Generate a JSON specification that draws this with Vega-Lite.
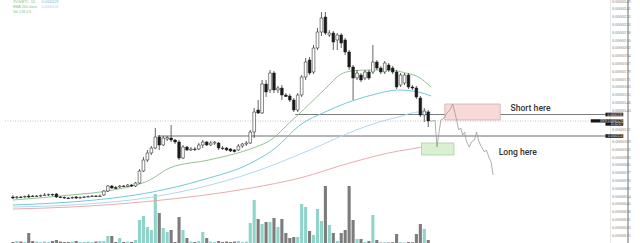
{
  "$schema": "https://vega.github.io/schema/vega-lite/v6.json",
  "width": 633,
  "height": 243,
  "autosize": "none",
  "padding": {"left": 0, "top": 0, "right": 7, "bottom": 0},
  "background": "white",
  "config": {"view": {"stroke": null}, "font": "Liberation Sans"},
  "datasets": {
    "candles": [
      {"i":0,"o":53,"h":55,"l":51,"c":52,"v":10},
      {"i":1,"o":52.5,"h":54,"l":51,"c":53,"v":20},
      {"i":2,"o":53,"h":54,"l":52,"c":52.5,"v":15},
      {"i":3,"o":53,"h":54.5,"l":52,"c":53.5,"v":10},
      {"i":4,"o":54,"h":56,"l":52,"c":53,"v":100},
      {"i":5,"o":54,"h":55,"l":53,"c":53.5,"v":20},
      {"i":6,"o":53.5,"h":55,"l":53,"c":54,"v":15},
      {"i":7,"o":54,"h":55.5,"l":53,"c":54.5,"v":10},
      {"i":8,"o":54.5,"h":57,"l":54,"c":55,"v":15},
      {"i":9,"o":55,"h":56.5,"l":54,"c":55.5,"v":10},
      {"i":10,"o":55.5,"h":56.5,"l":54,"c":55,"v":20},
      {"i":11,"o":56,"h":57,"l":52,"c":53,"v":30},
      {"i":12,"o":53,"h":54,"l":52,"c":52.5,"v":15},
      {"i":13,"o":52.5,"h":53.5,"l":51,"c":52,"v":10},
      {"i":14,"o":52,"h":53,"l":51,"c":51.5,"v":10},
      {"i":15,"o":52,"h":53.5,"l":51,"c":52.5,"v":15},
      {"i":16,"o":53,"h":54,"l":51,"c":52,"v":20},
      {"i":17,"o":52,"h":53.5,"l":51.5,"c":52.5,"v":10},
      {"i":18,"o":52.5,"h":54,"l":52,"c":53,"v":10},
      {"i":19,"o":53,"h":54.5,"l":52.5,"c":53.5,"v":15},
      {"i":20,"o":53.5,"h":55,"l":53,"c":54,"v":10},
      {"i":21,"o":54,"h":55,"l":53,"c":53.5,"v":15},
      {"i":22,"o":53.5,"h":55.5,"l":53,"c":54,"v":20},
      {"i":23,"o":55,"h":60,"l":54,"c":59,"v":20},
      {"i":24,"o":59,"h":65,"l":58,"c":64,"v":70},
      {"i":25,"o":64,"h":65,"l":61,"c":62,"v":70},
      {"i":26,"o":62.5,"h":64,"l":61,"c":61.5,"v":10},
      {"i":27,"o":63,"h":65,"l":62,"c":64,"v":50},
      {"i":28,"o":64,"h":65,"l":63,"c":63.5,"v":10},
      {"i":29,"o":63.5,"h":66,"l":63,"c":65,"v":15},
      {"i":30,"o":65,"h":66,"l":63,"c":64,"v":10},
      {"i":31,"o":64,"h":68,"l":63,"c":67,"v":30},
      {"i":32,"o":67,"h":81,"l":66,"c":79,"v":230},
      {"i":33,"o":79,"h":93,"l":78,"c":90,"v":270},
      {"i":34,"o":90,"h":100,"l":88,"c":97,"v":160},
      {"i":35,"o":97,"h":104,"l":95,"c":102,"v":130},
      {"i":36,"o":102,"h":122,"l":101,"c":113,"v":490},
      {"i":37,"o":113,"h":115,"l":100,"c":105,"v":300},
      {"i":38,"o":105,"h":114,"l":104,"c":112,"v":150},
      {"i":39,"o":111,"h":114,"l":109,"c":112.5,"v":110},
      {"i":40,"o":112,"h":125,"l":108,"c":110,"v":130},
      {"i":41,"o":110,"h":111,"l":106,"c":108,"v":10},
      {"i":42,"o":108,"h":110,"l":90,"c":92,"v":260},
      {"i":43,"o":92,"h":105,"l":91,"c":103,"v":130},
      {"i":44,"o":103,"h":104,"l":99,"c":100,"v":50},
      {"i":45,"o":100,"h":103,"l":99,"c":101,"v":15},
      {"i":46,"o":101,"h":103,"l":99,"c":100.5,"v":10},
      {"i":47,"o":101,"h":107,"l":100,"c":105,"v":20},
      {"i":48,"o":105,"h":110,"l":102,"c":108,"v":110},
      {"i":49,"o":108,"h":109,"l":104,"c":105,"v":50},
      {"i":50,"o":105,"h":109,"l":104,"c":107,"v":15},
      {"i":51,"o":107,"h":109,"l":105,"c":107.8,"v":10},
      {"i":52,"o":107,"h":108,"l":100,"c":102,"v":20},
      {"i":53,"o":102,"h":104,"l":100,"c":101.5,"v":10},
      {"i":54,"o":102,"h":103,"l":99,"c":100,"v":15},
      {"i":55,"o":101,"h":102,"l":98,"c":99,"v":10},
      {"i":56,"o":100,"h":101,"l":97.5,"c":98.5,"v":15},
      {"i":57,"o":100,"h":106,"l":99,"c":104,"v":20},
      {"i":58,"o":104,"h":107,"l":102,"c":106,"v":10},
      {"i":59,"o":106,"h":109,"l":104,"c":107,"v":15},
      {"i":60,"o":107,"h":120,"l":106,"c":118,"v":200},
      {"i":61,"o":118,"h":142,"l":112,"c":138,"v":430},
      {"i":62,"o":140,"h":150,"l":136,"c":137,"v":240},
      {"i":63,"o":137,"h":170,"l":136,"c":166,"v":190},
      {"i":64,"o":166,"h":170,"l":153,"c":158,"v":210},
      {"i":65,"o":160,"h":180,"l":157,"c":177,"v":210},
      {"i":66,"o":177,"h":179,"l":157,"c":160,"v":250},
      {"i":67,"o":160,"h":164,"l":157,"c":162,"v":160},
      {"i":68,"o":162,"h":165,"l":150,"c":155,"v":240},
      {"i":69,"o":155,"h":157,"l":153,"c":153.5,"v":100},
      {"i":70,"o":154,"h":156,"l":148,"c":150,"v":50},
      {"i":71,"o":150,"h":152,"l":138,"c":140,"v":60},
      {"i":72,"o":140,"h":157,"l":138,"c":155,"v":60},
      {"i":73,"o":155,"h":175,"l":153,"c":173,"v":390},
      {"i":74,"o":173,"h":192,"l":170,"c":188,"v":360},
      {"i":75,"o":190,"h":193,"l":175,"c":177,"v":120},
      {"i":76,"o":178,"h":205,"l":176,"c":202,"v":80},
      {"i":77,"o":202,"h":222,"l":200,"c":218,"v":340},
      {"i":78,"o":218,"h":238,"l":214,"c":232,"v":220},
      {"i":79,"o":233,"h":238,"l":215,"c":217,"v":570},
      {"i":80,"o":215,"h":220,"l":213,"c":217,"v":180},
      {"i":81,"o":217,"h":219,"l":200,"c":208,"v":100},
      {"i":82,"o":210,"h":217,"l":200,"c":215,"v":20},
      {"i":83,"o":215,"h":217,"l":202,"c":207,"v":100},
      {"i":84,"o":210,"h":212,"l":195,"c":198,"v":130},
      {"i":85,"o":198,"h":200,"l":180,"c":183,"v":570},
      {"i":86,"o":183,"h":185,"l":150,"c":172,"v":230},
      {"i":87,"o":172,"h":180,"l":170,"c":177,"v":40},
      {"i":88,"o":175,"h":177,"l":168,"c":170,"v":40},
      {"i":89,"o":172,"h":180,"l":170,"c":178,"v":10},
      {"i":90,"o":178,"h":180,"l":170,"c":172,"v":20},
      {"i":91,"o":178,"h":205,"l":176,"c":188,"v":280},
      {"i":92,"o":188,"h":190,"l":180,"c":182,"v":30},
      {"i":93,"o":182,"h":184,"l":176,"c":178,"v":5},
      {"i":94,"o":178,"h":189,"l":176,"c":187,"v":8},
      {"i":95,"o":185,"h":187,"l":178,"c":180,"v":5},
      {"i":96,"o":182,"h":184,"l":176,"c":178,"v":8},
      {"i":97,"o":178,"h":180,"l":161,"c":163,"v":90},
      {"i":98,"o":165,"h":177,"l":163,"c":175,"v":8},
      {"i":99,"o":167,"h":177,"l":165,"c":175,"v":5},
      {"i":100,"o":175,"h":177,"l":161,"c":163,"v":10},
      {"i":101,"o":163,"h":165,"l":160,"c":162,"v":8},
      {"i":102,"o":162,"h":164,"l":151,"c":153,"v":90},
      {"i":103,"o":152,"h":154,"l":133,"c":135,"v":190},
      {"i":104,"o":135,"h":142,"l":128,"c":139,"v":140},
      {"i":105,"o":138,"h":140,"l":123,"c":129,"v":30}
    ],
    "ma": [
      {"s":"ma1","i":0,"p":50},{"s":"ma1","i":14.7,"p":55},{"s":"ma1","i":25.4,"p":60},{"s":"ma1","i":34.6,"p":70},
      {"s":"ma1","i":39.6,"p":82},{"s":"ma1","i":49.5,"p":90},{"s":"ma1","i":57.7,"p":98},{"s":"ma1","i":61.4,"p":103},
      {"s":"ma1","i":65.2,"p":110},{"s":"ma1","i":70.1,"p":128},{"s":"ma1","i":73.4,"p":140},{"s":"ma1","i":79.4,"p":163},
      {"s":"ma1","i":82.6,"p":175},{"s":"ma1","i":85.6,"p":179},{"s":"ma1","i":90,"p":180},{"s":"ma1","i":95,"p":180},
      {"s":"ma1","i":99.3,"p":177},{"s":"ma1","i":102.5,"p":173},{"s":"ma1","i":105.7,"p":163},
      {"s":"ma2","i":0,"p":45},{"s":"ma2","i":14.7,"p":48},{"s":"ma2","i":25.4,"p":52},{"s":"ma2","i":35.3,"p":58},
      {"s":"ma2","i":47.8,"p":70},{"s":"ma2","i":60.2,"p":87},{"s":"ma2","i":66.4,"p":102},{"s":"ma2","i":72.6,"p":125},
      {"s":"ma2","i":78.9,"p":138},{"s":"ma2","i":84.3,"p":147},{"s":"ma2","i":90.8,"p":155},{"s":"ma2","i":97.5,"p":160},
      {"s":"ma2","i":102.5,"p":158},{"s":"ma2","i":105.7,"p":154},
      {"s":"ma3","i":0,"p":43},{"s":"ma3","i":14.7,"p":45},{"s":"ma3","i":35.3,"p":53},{"s":"ma3","i":60.2,"p":77},
      {"s":"ma3","i":75.1,"p":100},{"s":"ma3","i":86.8,"p":120},{"s":"ma3","i":92.5,"p":128},{"s":"ma3","i":97.5,"p":133},
      {"s":"ma3","i":102.5,"p":138},{"s":"ma3","i":105.7,"p":138},
      {"s":"ma4","i":0,"p":41},{"s":"ma4","i":14.7,"p":43},{"s":"ma4","i":35.3,"p":49},{"s":"ma4","i":60.2,"p":62},
      {"s":"ma4","i":72.6,"p":72},{"s":"ma4","i":85.1,"p":87},{"s":"ma4","i":97.5,"p":99},{"s":"ma4","i":100.7,"p":101},
      {"s":"ma4","i":105.7,"p":105}
    ],
    "levels": [
      {"kind":"last","x1":-2,"x2":149.8,"p":129},
      {"kind":"level","x1":71.4,"x2":149.8,"p":135.5},
      {"kind":"level","x1":36.6,"x2":149.8,"p":114}
    ],
    "zones": [
      {"kind":"short","x1":109.2,"x2":123.2,"p1":146,"p2":130},
      {"kind":"long","x1":103.3,"x2":111.5,"p1":107,"p2":95}
    ],
    "path": [
      {"k":0,"i":105.5,"p":129},{"k":1,"i":106.2,"p":129},{"k":2,"i":106.7,"p":130},{"k":3,"i":107.2,"p":103},
      {"k":4,"i":107.7,"p":117},{"k":5,"i":108.2,"p":130},{"k":6,"i":108.7,"p":131},{"k":7,"i":109.2,"p":133},
      {"k":8,"i":109.7,"p":137},{"k":9,"i":110.5,"p":140},{"k":10,"i":111.2,"p":146},{"k":11,"i":112,"p":133},
      {"k":12,"i":112.7,"p":120},{"k":13,"i":113.2,"p":122},{"k":14,"i":113.7,"p":115},{"k":15,"i":114.2,"p":118},
      {"k":16,"i":114.7,"p":108},{"k":17,"i":115.4,"p":103},{"k":18,"i":115.9,"p":108},{"k":19,"i":116.7,"p":110},
      {"k":20,"i":117.2,"p":118},{"k":21,"i":117.7,"p":110},{"k":22,"i":118.2,"p":105},{"k":23,"i":119.2,"p":98},
      {"k":24,"i":119.7,"p":100},{"k":25,"i":120.4,"p":92},{"k":26,"i":120.9,"p":88},{"k":27,"i":121.4,"p":75}
    ],
    "notes": [
      {"i":125.8,"p":142,"t":"Short here"},
      {"i":122.8,"p":98,"t":"Long here"}
    ],
    "tags": [
      {"x1":149.8,"x2":154.3,"p1":133.7,"p2":137.3,"p":135.5,"t":"0.0000135"},
      {"x1":146.1,"x2":154.3,"p1":127.5,"p2":130.7,"p":129.1,"t":"XVG 0.0000129"},
      {"x1":149.8,"x2":154.3,"p1":124.3,"p2":127.5,"p":125.9,"t":"11:42:07"},
      {"x1":149.8,"x2":154.3,"p1":112.2,"p2":115.8,"p":114,"t":"0.0000114"}
    ],
    "legend": [
      {"i":0,"p":248,"t":"XVG/BTC, 1D","tone":"base"},
      {"i":7.2,"p":248,"t":"0.0000129","tone":"blue"},
      {"i":0,"p":243,"t":"EMA 200 close","tone":"base"},
      {"i":7.2,"p":243,"t":"0.0000105","tone":"red"},
      {"i":0,"p":238,"t":"Vol 128.4 K","tone":"base"}
    ],
    "edge": [{"i":155.5}]
  },
  "resolve": {"scale": {"y": "independent"}},
  "layer": [
    {
      "data": {"name": "candles"},
      "mark": {"type": "bar", "width": 3.1},
      "encoding": {
        "x": {"field": "i", "type": "quantitative", "scale": {"domain": [-2, 155.5], "nice": false, "zero": false}, "axis": null},
        "y": {"field": "v", "type": "quantitative", "scale": {"domain": [0, 2430], "nice": false}, "axis": null},
        "color": {"condition": {"test": "datum.c > datum.o", "value": "#8fd3c9"}, "value": "#7c7c7c"}
      }
    },
    {
      "layer": [
        {
          "data": {"name": "levels"},
          "mark": {"type": "rule", "strokeWidth": 0.8},
          "encoding": {
            "x": {"field": "x1", "type": "quantitative", "scale": {"domain": [-2, 155.5], "nice": false, "zero": false}, "axis": null},
            "x2": {"field": "x2"},
            "y": {
              "field": "p", "type": "quantitative",
              "scale": {"domain": [7, 250], "nice": false, "zero": false},
              "axis": {
                "orient": "right", "offset": -23, "title": null, "grid": false, "ticks": false,
                "tickCount": 60,
                "labelOverlap": false, "labelBound": false, "labelFlush": false,
                "values": [249, 241.2, 233.4, 225.6, 217.8, 210, 202.2, 194.4, 186.6, 178.8, 171, 163.2, 155.4, 147.6, 139.8, 121, 108.6, 100.8, 93, 85.2, 77.4, 69.6, 61.8, 54, 46.2, 38.4, 30.6, 22.8, 15],
                "labelExpr": "format(datum.value / 1e7, '.7f')",
                "labelFontSize": 4.4, "labelColor": "#808080", "labelPadding": 1.5, "labelFont": "Liberation Sans Narrow",
                "domainColor": "#c4c4c4", "domainDash": [1, 1], "domainWidth": 0.8
              }
            },
            "color": {"condition": {"test": "datum.kind == 'last'", "value": "#b4b4b4"}, "value": "#3a3a3a"},
            "strokeDash": {"condition": {"test": "datum.kind == 'last'", "value": [1, 1.5]}, "value": [1, 0]}
          }
        },
        {
          "data": {"name": "ma"},
          "mark": {"type": "line", "interpolate": "monotone", "strokeWidth": 0.9},
          "encoding": {
            "x": {"field": "i", "type": "quantitative"},
            "y": {"field": "p", "type": "quantitative"},
            "color": {"field": "s", "type": "nominal", "legend": null,
              "scale": {"domain": ["ma1", "ma2", "ma3", "ma4"], "range": ["#86bc88", "#62c3d2", "#a7d3ee", "#e6a2a2"]}}
          }
        },
        {
          "data": {"name": "candles"},
          "mark": {"type": "rule", "color": "#222222", "strokeWidth": 0.7},
          "encoding": {
            "x": {"field": "i", "type": "quantitative"},
            "y": {"field": "l", "type": "quantitative"},
            "y2": {"field": "h"}
          }
        },
        {
          "data": {"name": "candles"},
          "mark": {"type": "bar", "width": 2.7, "stroke": "#222222", "strokeWidth": 0.55},
          "encoding": {
            "x": {"field": "i", "type": "quantitative"},
            "y": {"field": "o", "type": "quantitative"},
            "y2": {"field": "c"},
            "fill": {"condition": {"test": "datum.c > datum.o", "value": "#ffffff"}, "value": "#1a1a1a"}
          }
        },
        {
          "data": {"name": "zones"},
          "mark": {"type": "rect", "strokeWidth": 0.7},
          "encoding": {
            "x": {"field": "x1", "type": "quantitative"},
            "x2": {"field": "x2"},
            "y": {"field": "p1", "type": "quantitative"},
            "y2": {"field": "p2"},
            "fill": {"condition": {"test": "datum.kind == 'short'", "value": "#f7d9d9"}, "value": "#d9f1d0"},
            "stroke": {"condition": {"test": "datum.kind == 'short'", "value": "#d9a3a3"}, "value": "#9fce92"}
          }
        },
        {
          "data": {"name": "path"},
          "mark": {"type": "line", "color": "#9a9a9a", "strokeWidth": 0.8},
          "encoding": {
            "x": {"field": "i", "type": "quantitative"},
            "y": {"field": "p", "type": "quantitative"},
            "order": {"field": "k", "type": "quantitative"}
          }
        },
        {
          "data": {"name": "notes"},
          "mark": {"type": "text", "align": "left", "baseline": "middle", "font": "Roboto", "fontWeight": 500, "fontSize": 8.6, "color": "#333333"},
          "encoding": {
            "x": {"field": "i", "type": "quantitative"},
            "y": {"field": "p", "type": "quantitative"},
            "text": {"field": "t"}
          }
        },
        {
          "data": {"name": "tags"},
          "mark": {"type": "rect", "color": "#151515"},
          "encoding": {
            "x": {"field": "x1", "type": "quantitative"},
            "x2": {"field": "x2"},
            "y": {"field": "p1", "type": "quantitative"},
            "y2": {"field": "p2"}
          }
        },
        {
          "data": {"name": "tags"},
          "mark": {"type": "text", "align": "right", "baseline": "middle", "fontSize": 3.2, "color": "#ffffff", "dx": -0.6},
          "encoding": {
            "x": {"field": "x2", "type": "quantitative"},
            "y": {"field": "p", "type": "quantitative"},
            "text": {"field": "t"}
          }
        },
        {
          "data": {"name": "legend"},
          "mark": {"type": "text", "align": "left", "baseline": "middle", "fontSize": 3.6},
          "encoding": {
            "x": {"field": "i", "type": "quantitative"},
            "y": {"field": "p", "type": "quantitative"},
            "text": {"field": "t"},
            "color": {"field": "tone", "type": "nominal", "legend": null,
              "scale": {"domain": ["base", "blue", "red"], "range": ["#6a6a6a", "#3b8fd0", "#e0604a"]}}
          }
        },
        {
          "data": {"name": "edge"},
          "mark": {"type": "rule", "color": "#6a6a6a", "strokeWidth": 1},
          "encoding": {
            "x": {"field": "i", "type": "quantitative"}
          }
        }
      ]
    }
  ]
}
